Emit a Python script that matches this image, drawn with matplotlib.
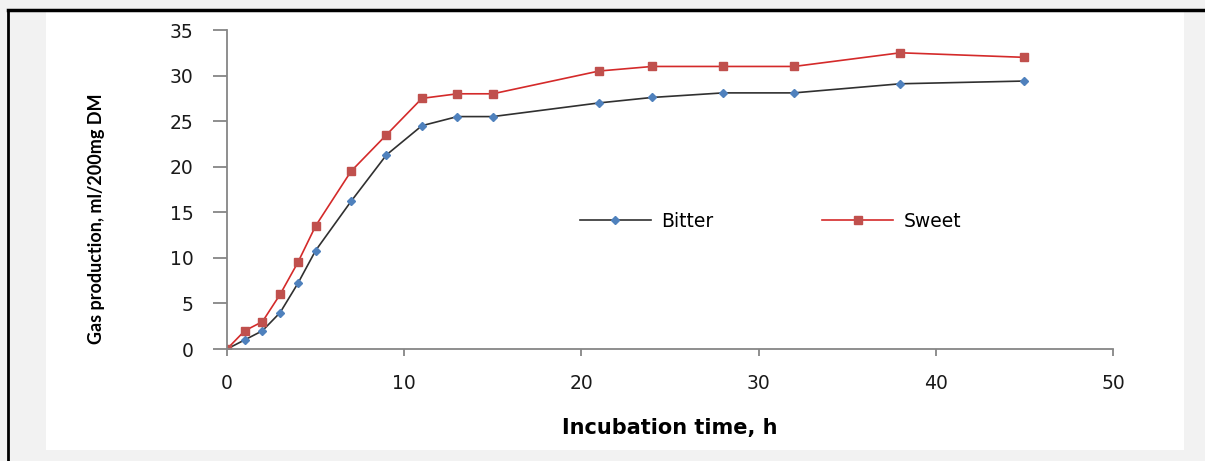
import matplotlib.pyplot as plt
from matplotlib.lines import Line2D
from matplotlib.patches import Rectangle

# incubation times (h) and gas production (ml/200mg DM)
hours = [0, 1, 2, 3, 4, 5, 7, 9, 11, 13, 15, 21, 24, 28, 32, 38, 45]
bitter = [0, 1.0, 2.0, 4.0, 7.2, 10.8, 16.2, 21.3, 24.5, 25.5, 25.5, 27.0, 27.6, 28.1, 28.1, 29.1, 29.4]
sweet = [0, 2.0, 3.0, 6.0, 9.5, 13.5, 19.5, 23.5, 27.5, 28.0, 28.0, 30.5, 31.0, 31.0, 31.0, 32.5, 32.0]

W, H = 1205, 461
fig = plt.figure(figsize=(W / 100, H / 100), dpi=100)
fig.patch.set_facecolor('#f2f2f2')

# white chart area and black frame lines
fig.add_artist(Rectangle((46 / W, 1 - 450 / H), (1184 - 46) / W, (450 - 12) / H,
                         transform=fig.transFigure, facecolor='white', edgecolor='none', zorder=-10))
fig.add_artist(Line2D([8 / W, 1], [1 - 10 / H, 1 - 10 / H], transform=fig.transFigure,
                      color='black', lw=2.5, zorder=-5))
fig.add_artist(Line2D([8 / W, 8 / W], [0, 1 - 10 / H], transform=fig.transFigure,
                      color='black', lw=2, zorder=-5))

ax = fig.add_axes([227 / W, 1 - 349 / H, (1113 - 227) / W, (349 - 30) / H])
ax.set_facecolor('none')

ax.plot(hours, bitter, color='#303030', lw=1.2, marker='D', markersize=3.8,
        markerfacecolor='#4f81bd', markeredgecolor='#4f81bd', label='Bitter')
ax.plot(hours, sweet, color='#d42a2a', lw=1.2, marker='s', markersize=6,
        markerfacecolor='#c0504d', markeredgecolor='#c0504d', label='Sweet')

ax.set_xlim(0, 50)
ax.set_ylim(0, 35)
ax.set_xticks(range(0, 51, 10))
ax.set_yticks(range(0, 36, 5))

for side in ['top', 'right']:
    ax.spines[side].set_visible(False)
for side in ['left', 'bottom']:
    ax.spines[side].set_color('#868686')
    ax.spines[side].set_linewidth(1.3)

ax.tick_params(axis='y', direction='out', length=10, width=1.3, color='#868686',
               labelsize=13.5, labelcolor='#1a1a1a', pad=14)
ax.tick_params(axis='x', direction='out', length=5, width=1.3, color='#868686',
               labelsize=13.5, labelcolor='#1a1a1a', pad=13)

ax.set_xlabel('Incubation time, h', fontsize=15, fontweight='bold', labelpad=18)
ax.set_ylabel('Gas production, ml/200mg DM', fontsize=13, fontweight='bold',
              family=['Lato', 'DejaVu Sans'])
ax.yaxis.set_label_coords(-0.138, 0.41)

ax.legend(loc='center left', bbox_to_anchor=(0.398, 0.40), ncol=2, frameon=False,
          fontsize=13.5, handlelength=3.8, columnspacing=5.8, handletextpad=0.55,
          borderpad=0, borderaxespad=0)

fig.savefig('out.png', dpi=100, facecolor=fig.get_facecolor())
